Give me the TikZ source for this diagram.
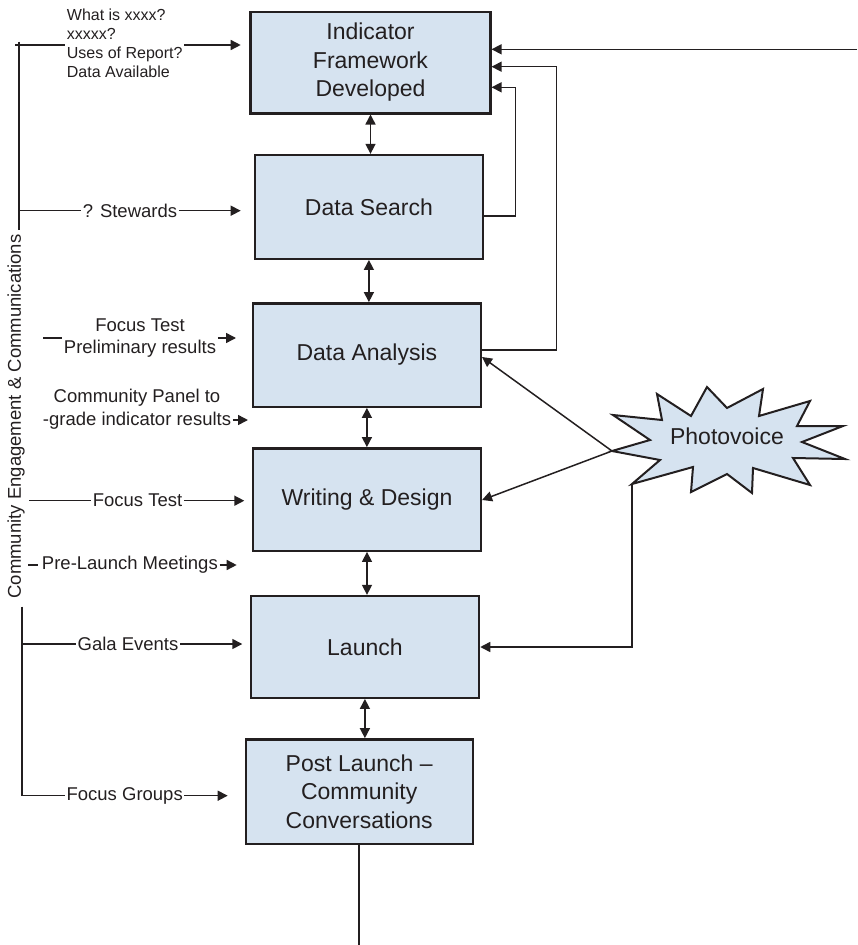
\documentclass[tikz,border=0pt]{standalone}
\usepackage{fontspec}
\setmainfont{Liberation Sans}
\usetikzlibrary{arrows.meta}
\definecolor{boxfill}{RGB}{214,227,240}
\definecolor{ink}{RGB}{35,31,32}

\begin{document}
\begin{tikzpicture}[x=1pt,y=-1pt,
  stage/.style={draw=ink, line width=2.4pt, fill=boxfill, text=ink, align=center,
                font=\fontsize{23}{28.5}\selectfont, inner sep=0pt},
  link/.style={draw=ink, line width=1.5pt},
  arr/.style={link, -{Triangle[length=10pt,width=10pt]}},
  dbl/.style={link, {Triangle[length=10pt,width=10pt]}-{Triangle[length=10pt,width=10pt]}},
  lbl/.style={text=ink, font=\fontsize{18.5}{22.5}\selectfont, inner sep=1.5pt, align=center},
]
\useasboundingbox (0,0) rectangle (857,945);

% ---- process stages ----
\node[stage, minimum width=239.7pt, minimum height=101.6pt] (B1) at (370.5,62.5) {Indicator\\Framework\\Developed};
\node[stage, minimum width=227.8pt, minimum height=103.7pt] (B2) at (368.9,206.9) {Data Search};
\node[stage, minimum width=227.8pt, minimum height=103.4pt] (B3) at (366.9,355) {Data Analysis};
\node[stage, minimum width=227.7pt, minimum height=102.4pt] (B4) at (367,499.5) {Writing \& Design};
\node[stage, minimum width=228.3pt, minimum height=101.7pt] (B5) at (364.9,646.9) {Launch};
\node[stage, minimum width=227pt, minimum height=104.7pt] (B6) at (359.2,791.7) {Post Launch --\\Community\\Conversations};

% ---- two-way links between stages ----
\draw[dbl] (B1.south) -- (B1.south |- B2.north);
\draw[dbl] (B2.south) -- (B2.south |- B3.north);
\draw[dbl] (B3.south) -- (B3.south |- B4.north);
\draw[dbl] (B4.south) -- (B4.south |- B5.north);
\draw[dbl] (B5.south) -- (B5.south |- B6.north);

% ---- outgoing line at the bottom ----
\coordinate (bottomEnd) at (359.3,945);
\draw[link] (B6.south) -- (B6.south |- bottomEnd);

% ---- feedback loops on the right ----
\coordinate (farRight) at (857,49.3);
\draw[arr] (farRight) -- (B1.east |- farRight);
\coordinate (dsLoop) at (515.6,216);
\draw[arr] (B2.east |- dsLoop) -- (dsLoop) |- (B1.east |- 0,87.3);
\coordinate (daLoop) at (556.7,350);
\draw[arr] (B3.east |- daLoop) -- (daLoop) |- (B1.east |- 0,66.7);

% ---- Photovoice burst ----
\draw[draw=ink, line width=2pt, fill=boxfill, line join=miter]
  (613,415) -- (662,420) -- (657,394) -- (691,416) -- (707,387) -- (727,408)
  -- (763,389) -- (759,416) -- (810,401) -- (797,426) -- (843,426) -- (802,442)
  -- (845,459) -- (793,458) -- (810,485) -- (753,468) -- (752,493) -- (727,474)
  -- (691,492) -- (693,467) -- (632,484) -- (660,460) -- (612,451) -- (650,440) -- cycle;
\node[text=ink, font=\fontsize{23}{28}\selectfont] (pv) at (727,436) {Photovoice};
\coordinate (pvL) at (612,451);
\coordinate (pvB) at (632,484);
\draw[arr] (pvL) -- (B3.east |- 0,357);
\draw[arr] (pvL) -- (B4.east |- 0,500);
\draw[arr] (pvB) |- (B5.east |- 0,647);

% ---- community engagement spine ----
\draw[link] (19,41.5) -- (19,230);
\draw[link] (22,606.7) -- (22,795.7);
\node[lbl, rotate=90] (side) at (16,416.5) {Community Engagement \& Communications};

% questions feeding the framework
\node[anchor=west, align=left, text=ink, font=\fontsize{16}{19}\selectfont,
      inner xsep=1.5pt, inner ysep=0pt] (topq) at (65.2,43.5)
      {What is xxxx?\\xxxxx?\\Uses of Report?\\Data Available};
\coordinate (qStart) at (15,45);
\coordinate (qEnd) at (240.7,45);
\draw[link] (qStart) -- (qStart -| topq.west);
\draw[arr] (topq.east |- qEnd) -- (qEnd);

% stewards
\node[lbl] (stw) at (130,210.7) {? Stewards};
\coordinate (stwEnd) at (240.7,210.7);
\draw[link] (19,210.7) -- (stw.west);
\draw[arr] (stw.east) -- (stwEnd);

% focus test of preliminary results
\node[lbl] (ftp) at (140,338) {Focus Test\\Preliminary results};
\coordinate (ftpStart) at (43.3,338);
\coordinate (ftpEnd) at (236,338);
\draw[link] (ftpStart) -- (ftp.west);
\draw[arr] (ftp.east) -- (ftpEnd);

% community panel
\node[lbl] (cpn) at (137,409) {Community Panel to\\-grade indicator results};
\coordinate (cpnEnd) at (248,420);
\draw[arr] (cpn.east |- cpnEnd) -- (cpnEnd);

% focus test of the draft
\node[lbl] (ft) at (137.5,500.7) {Focus Test};
\coordinate (ftStart) at (29.3,500.7);
\coordinate (ftEnd) at (244.3,500.7);
\draw[link] (ftStart) -- (ft.west);
\draw[arr] (ft.east) -- (ftEnd);

% pre-launch meetings
\node[lbl] (plm) at (129.9,565) {Pre-Launch Meetings};
\coordinate (plmStart) at (28.3,565);
\coordinate (plmDash) at (38.3,565);
\coordinate (plmEnd) at (236.7,565);
\draw[link] (plmStart) -- (plmDash);
\draw[arr] (plm.east) -- (plmEnd);

% gala events
\node[lbl] (gala) at (128,644) {Gala Events};
\coordinate (galaEnd) at (242.3,644);
\draw[link] (22,644) -- (gala.west);
\draw[arr] (gala.east) -- (galaEnd);

% focus groups
\node[lbl] (fg) at (124.7,795.7) {Focus Groups};
\coordinate (fgEnd) at (227.7,795.7);
\draw[link] (22,795.7) -- (fg.west);
\draw[arr] (fg.east) -- (fgEnd);
\end{tikzpicture}
\end{document}
